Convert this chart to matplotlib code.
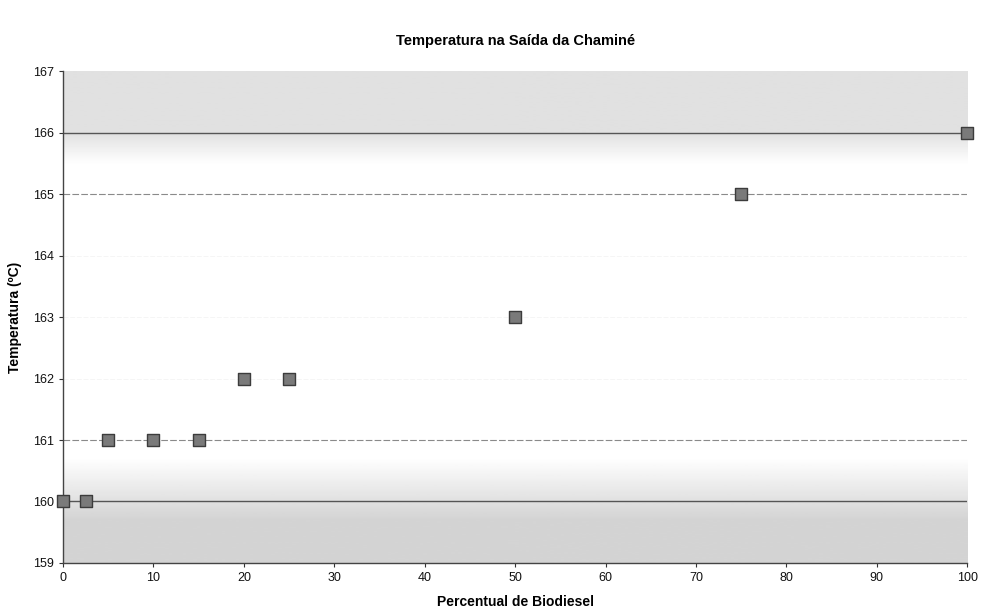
import matplotlib
matplotlib.use("Agg")
import matplotlib.pyplot as plt
import numpy as np

x_vals = [0, 2.5, 5, 10, 15, 20, 25, 50, 75, 100]
y_vals = [160, 160, 161, 161, 161, 162, 162, 163, 165, 166]
x_ticks = [0, 10, 20, 30, 40, 50, 60, 70, 80, 90, 100]
y_ticks = [159, 160, 161, 162, 163, 164, 165, 166, 167]

plt.rcParams['font.family'] = ['Liberation Sans', 'DejaVu Sans']

fig = plt.figure(figsize=(9.84, 6.13), dpi=100)
ax = fig.add_axes([0.064, 0.0816, 0.919, 0.8024])

ax.set_xlim(0, 100)
ax.set_ylim(159, 167)

# scan-like shading: smooth vertical gradient (grey at top and bottom bands)
yy = np.linspace(159, 167, 400)
top = np.clip((yy - 165.5) / 0.5, 0, 1) * 0.12
bottom = np.clip((160.7 - yy) / 1.0, 0, 1) * 0.17
img = 1 - np.maximum(top, bottom)
ax.imshow(img[:, None], extent=[0, 100, 159, 167], origin='lower', aspect='auto',
          cmap='gray', vmin=0, vmax=1, zorder=0, interpolation='bilinear')

for yv in y_ticks[1:-1]:
    if yv in (160, 166):
        ax.axhline(yv, color='#555555', lw=1.0, zorder=1)
    elif yv in (161, 165):
        ax.axhline(yv, color='#8a8a8a', lw=0.8, ls=(0, (6, 2)), zorder=1)
    else:
        ax.axhline(yv, color='#f4f4f4', lw=0.6, ls=(0, (6, 2)), zorder=1)
ax.axvline(100, color='#cccccc', lw=0.6, ls=':', zorder=1)

ax.scatter(x_vals, y_vals, marker='s', s=64, c='#7a7a7a', edgecolors='#3c3c3c',
           linewidths=1.0, zorder=3, clip_on=False)

ax.set_xticks(x_ticks)
ax.set_yticks(y_ticks)
ax.tick_params(axis='both', labelsize=9, length=3, width=0.8, colors='#333333',
               labelcolor='#111111')
for s in ('top', 'right'):
    ax.spines[s].set_visible(False)
for s in ('left', 'bottom'):
    ax.spines[s].set_color('#444444')
    ax.spines[s].set_linewidth(1.0)

ax.set_title('Temperatura na Saída da Chaminé', fontsize=10.5, fontweight='bold', pad=19)
ax.set_xlabel('Percentual de Biodiesel', fontsize=10, fontweight='bold', labelpad=8)
ax.set_ylabel('Temperatura (ºC)', fontsize=10, fontweight='bold', labelpad=8)

fig.savefig('out.png', dpi=100)
